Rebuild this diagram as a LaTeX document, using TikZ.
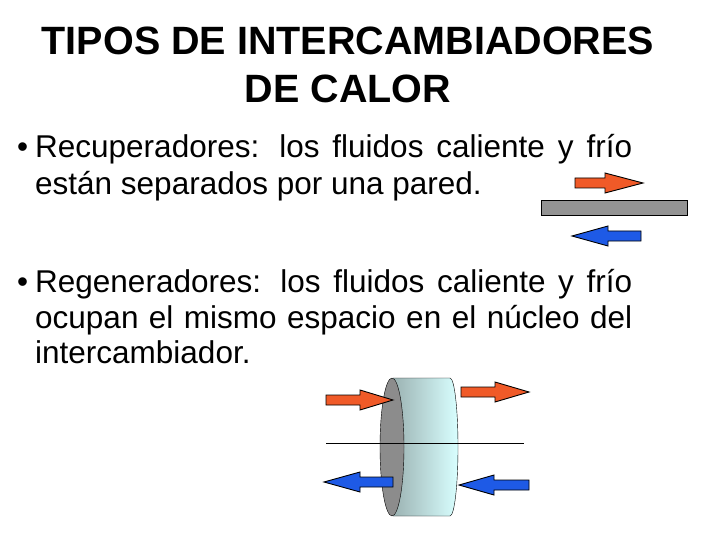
\documentclass[tikz,border=0pt]{standalone}
\usepackage{fontspec}
\setmainfont{Liberation Sans}
\definecolor{hot}{RGB}{240,90,40}
\definecolor{cold}{RGB}{30,90,230}
\begin{document}
\begin{tikzpicture}[x=1pt,y=-1pt,
  txt/.style={anchor=base west,inner sep=0pt,font=\fontsize{31.5}{36}\selectfont},
  ttl/.style={anchor=base,inner sep=0pt,font=\fontsize{39.5}{45}\selectfont\bfseries}]
\useasboundingbox (0,0) rectangle (720,540);
\fill[white] (0,0) rectangle (720,540);
\newcommand{\barrow}[5]{% color, xtail, xhead-base, xtip, y
  \filldraw[fill=#1,draw=black,line width=0.9pt]
   (#2,#5-5) -- (#3,#5-5) -- (#3,#5-10) -- (#4,#5) -- (#3,#5+10) -- (#3,#5+5) -- (#2,#5+5) -- cycle;}
\node[ttl] (t1) at (348,55) {TIPOS DE INTERCAMBIADORES};
\node[ttl] (t2) at (348,103) {DE CALOR};
\node[txt] (b1) at (17,158) {•};
\node[txt] (l1) at (35,158) {\makebox[597pt][s]{Recuperadores: los fluidos caliente y frío}};
\node[txt] (l2) at (35,195) {están separados por una pared.};
\node[txt] (b2) at (17,292) {•};
\node[txt] (l3) at (35,292) {\makebox[597pt][s]{Regeneradores: los fluidos caliente y frío}};
\node[txt] (l4) at (35,328) {\makebox[597pt][s]{ocupan el mismo espacio en el núcleo del}};
\node[txt] (l5) at (35,363) {intercambiador.};
% recuperador
\barrow{hot}{575}{605}{643}{183}
\filldraw[fill=gray!85,draw=black,line width=0.9pt] (541,200) rectangle (687,215);
\barrow{cold}{641}{608}{572}{236}
% regenerador
\shade[left color=gray!70!teal!60, right color=cyan!15!white]
  (393,378) -- (450,378) arc[start angle=-90,end angle=90,x radius=8pt,y radius=-69pt] -- (393,516) -- cycle;
\draw (393,378) -- (450,378) arc[start angle=-90,end angle=90,x radius=8pt,y radius=-69pt] -- (393,516);
\filldraw[fill=gray!90,draw=black] (392,447) ellipse[x radius=12pt,y radius=69pt];
\coordinate (la) at (326,443); \coordinate (lb) at (524,443);
\draw[line width=0.6pt] (la) -- (lb);
\barrow{hot}{326}{360}{393}{400}
\barrow{hot}{461}{495}{529}{392}
\barrow{cold}{393}{360}{324}{482}
\barrow{cold}{529}{494}{459}{485}
\end{tikzpicture}
\end{document}
